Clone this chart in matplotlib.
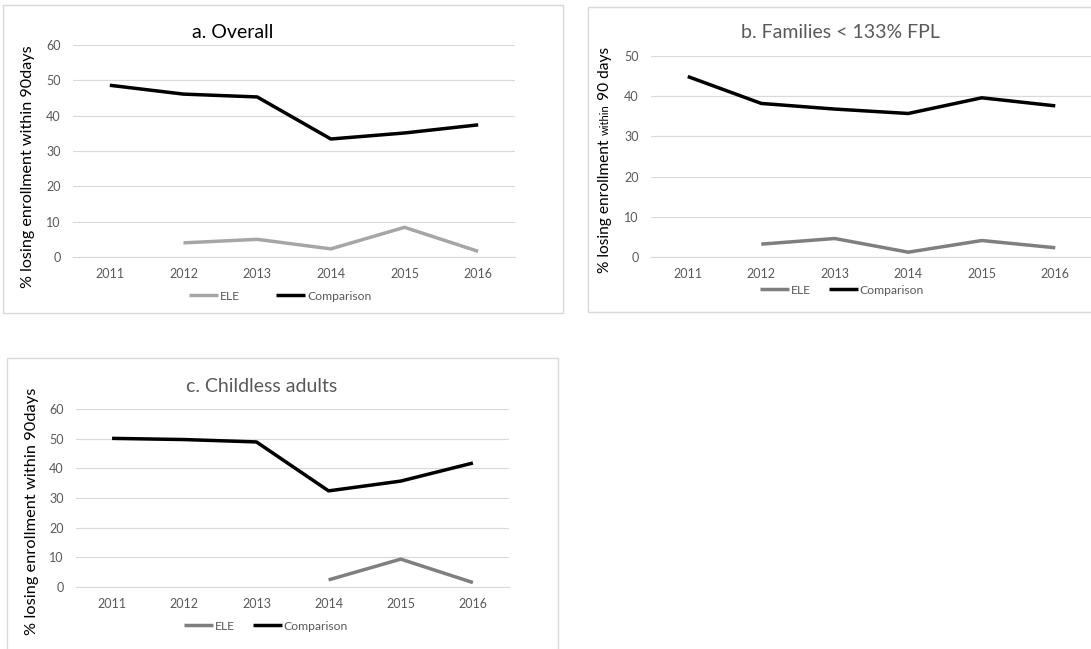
import numpy as np
import matplotlib
matplotlib.use("Agg")
import matplotlib.pyplot as plt
from matplotlib.patches import Rectangle

plt.rcParams['font.family'] = ['Lato', 'DejaVu Sans']

years = ["2011", "2012", "2013", "2014", "2015", "2016"]

overall_ele = [None, 4.0, 5.0, 2.3, 8.4, 1.6]
overall_cmp = [48.6, 46.1, 45.3, 33.4, 35.1, 37.4]

families_ele = [None, 3.2, 4.6, 1.2, 4.1, 2.3]
families_cmp = [44.9, 38.2, 36.8, 35.7, 39.6, 37.6]

childless_ele = [None, None, None, 2.4, 9.4, 1.5]
childless_cmp = [50.1, 49.7, 48.9, 32.4, 35.7, 41.8]

titles = ["a. Overall", "b. Families < 133% FPL", "c. Childless adults"]
series_names = ["ELE", "Comparison"]

W, H = 1091, 649
fig = plt.figure(figsize=(W / 100, H / 100), dpi=100)

GRID = "#D9D9D9"
TXT = "#595959"


def px_rect(l, t, r, b):
    return [l / W, 1 - b / H, (r - l) / W, (b - t) / H]


def frame(l, t, r, b):
    fig.patches.append(Rectangle((l / W, 1 - b / H), (r - l) / W, (b - t) / H,
                                 transform=fig.transFigure, fill=False,
                                 edgecolor=GRID, linewidth=1.0))


def vals(v):
    return np.array([np.nan if x is None else x for x in v], dtype=float)


def panel(rect, ele, cmp_, ymax, ele_color, title, title_xy, title_color,
          legend_y, legend_x, colspace):
    ax = fig.add_axes(px_rect(*rect))
    x = np.arange(len(years))
    ax.plot(x, vals(ele), color=ele_color, lw=2.5, solid_capstyle='butt',
            label=series_names[0])
    ax.plot(x, vals(cmp_), color="black", lw=2.5, solid_capstyle='butt',
            label=series_names[1])
    ax.set_xlim(-0.5, len(years) - 0.5)
    ax.set_ylim(0, ymax)
    ax.set_yticks(np.arange(0, ymax + 1, 10))
    ax.set_xticks(x)
    ax.set_xticklabels(years)
    ax.grid(axis='y', color=GRID, lw=0.8)
    ax.set_axisbelow(True)
    for s in ["top", "right", "left"]:
        ax.spines[s].set_visible(False)
    ax.spines["bottom"].set_color(GRID)
    ax.spines["bottom"].set_linewidth(0.8)
    ax.tick_params(length=0, labelsize=9, labelcolor=TXT)
    ax.tick_params(axis='x', pad=8)
    ax.tick_params(axis='y', pad=9)
    fig.text(title_xy[0] / W, 1 - title_xy[1] / H, title, ha='center',
             va='center', fontsize=14, color=title_color)
    leg = ax.legend(loc='center', bbox_to_anchor=(legend_x / W, 1 - legend_y / H),
                    bbox_transform=fig.transFigure, ncol=2, frameon=False,
                    fontsize=8.7, handlelength=2.4, handletextpad=0.15,
                    columnspacing=colspace, borderpad=0)
    for t in leg.get_texts():
        t.set_color(TXT)
    return ax


frame(3, 5, 563, 313)
frame(588, 7, 1100, 312)
frame(7, 358, 558, 660)

panel((73, 45, 515, 257), overall_ele, overall_cmp, 60, "#A6A6A6",
      titles[0], (233, 33), "black", 296, 280, 3.0)
panel((651, 56, 1092, 257), families_ele, families_cmp, 50, "#7F7F7F",
      titles[1], (840, 33), TXT, 290, 842, 1.5)
panel((76, 409, 509, 587), childless_ele, childless_cmp, 60, "#7F7F7F",
      titles[2], (262, 386), TXT, 626, 266, 1.5)

# y-axis labels
fig.text(28 / W, 1 - 167 / H, "% losing enrollment within 90days", rotation=90,
         ha='center', va='center', fontsize=11.6, color="black")
fig.text(32 / W, 1 - 511 / H, "% losing enrollment within 90days", rotation=90,
         ha='center', va='center', fontsize=11.8, color="black")

# panel b label, with a smaller "within"
fig.canvas.draw()
renderer = fig.canvas.get_renderer()
parts = [("% losing enrollment ", 11.2), ("within", 8), (" 90 days", 11.2)]
pieces = []
total = 0
for s, fs in parts:
    t = fig.text(0, 0, s, rotation=90, ha='center', va='bottom', fontsize=fs,
                 color="black")
    h = t.get_window_extent(renderer).height
    pieces.append((t, h))
    total += h
y0 = (H - 160) - total / 2
xb = 605
for t, h in pieces:
    t.set_position((xb / W, y0 / H))
    y0 += h

fig.savefig("out.png", dpi=100)
